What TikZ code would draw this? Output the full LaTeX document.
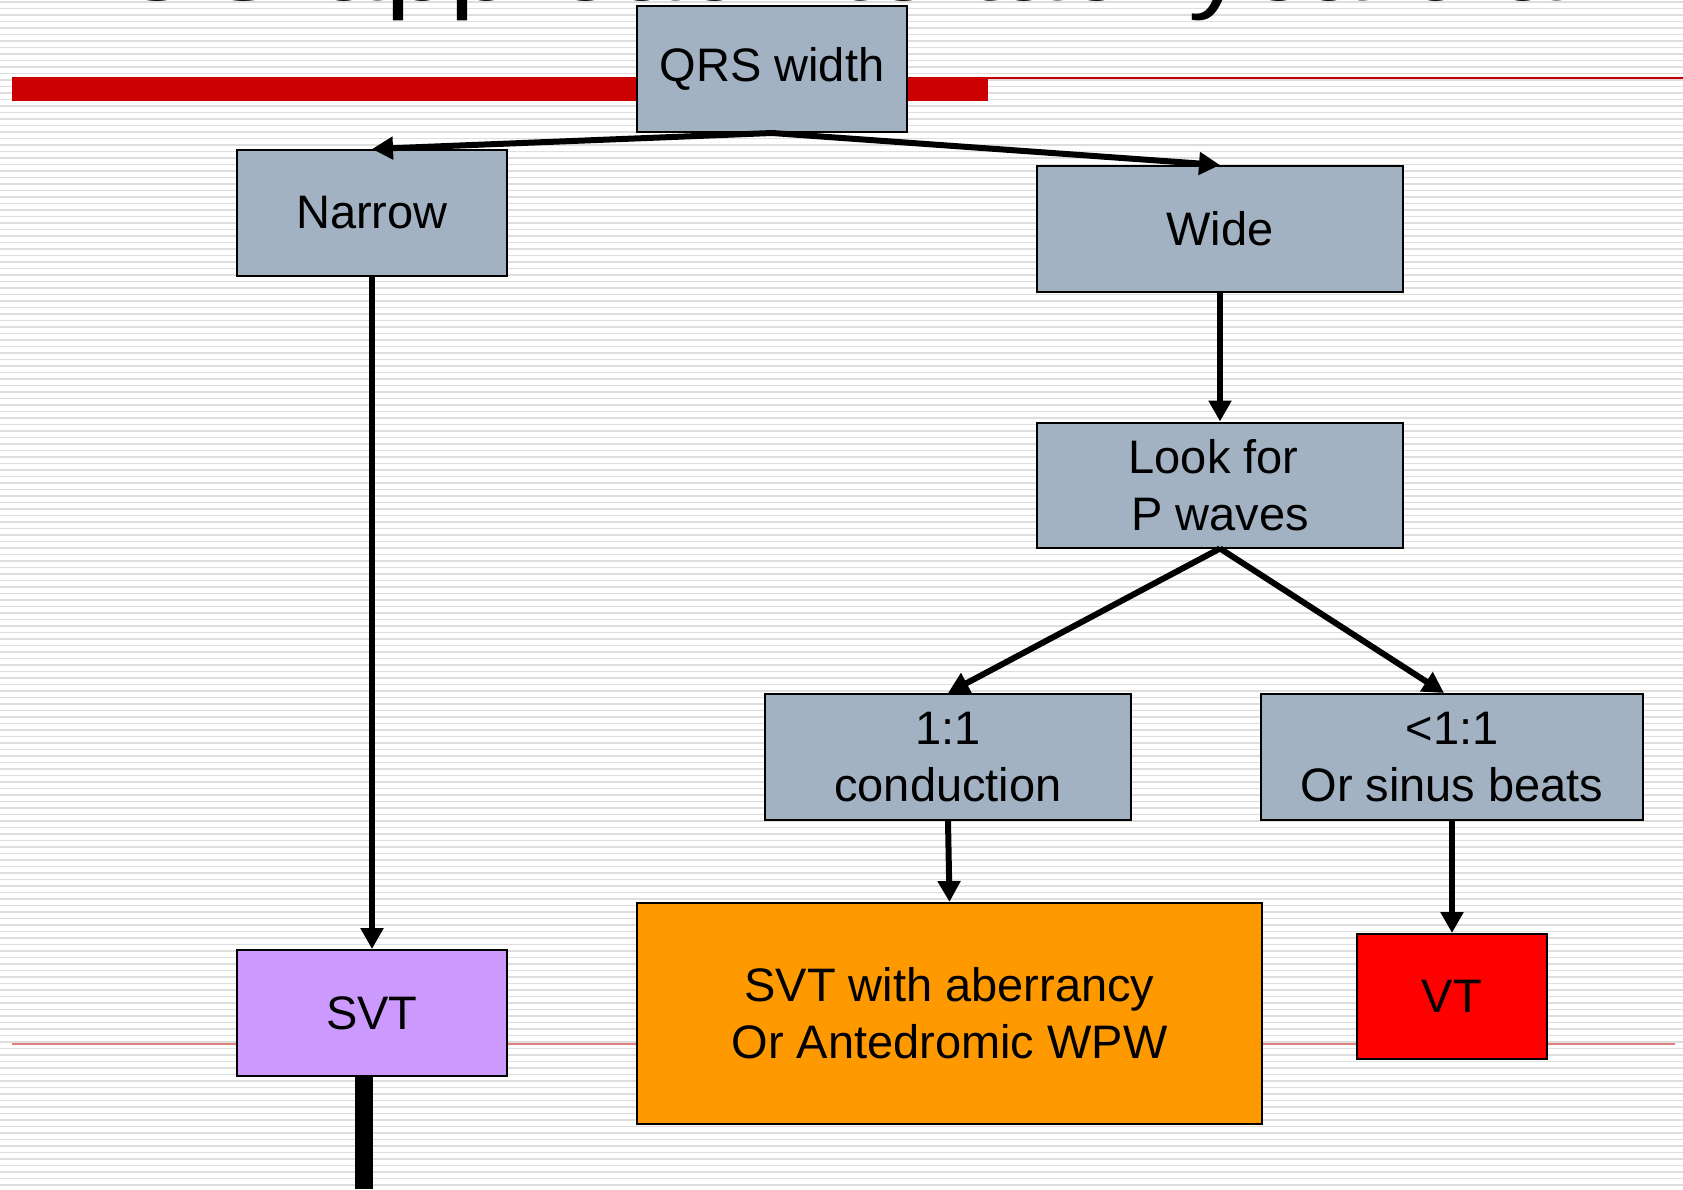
\documentclass[tikz,border=0pt]{standalone}
\usepackage{fontspec}
\setmainfont{Liberation Sans}
\usetikzlibrary{arrows.meta}

\definecolor{boxgray}{RGB}{162,178,194}
\definecolor{svtpurple}{RGB}{204,153,255}
\definecolor{aberrorange}{RGB}{255,153,0}
\definecolor{vtred}{RGB}{255,0,0}
\definecolor{barred}{RGB}{204,0,0}
\definecolor{rulepink}{RGB}{224,128,128}
\definecolor{stripe}{RGB}{222,222,222}

\tikzset{
  flowbox/.style={draw=black, line width=2pt, inner sep=0pt, align=center,
    font=\fontsize{47}{57}\selectfont},
  flowarrow/.style={line width=6pt, -{Triangle[length=21pt,width=22pt]}},
}

\begin{document}
\begin{tikzpicture}[x=1pt,y=-1pt]
  \useasboundingbox (0,0) rectangle (1683,1189);
  \fill[white] (0,0) rectangle (1683,1189);

  % ruled slide background
  \foreach \k in {0,...,183}
    \draw[stripe, line width=1.3pt] (0,{2+6.5*\k}) -- (1683,{2+6.5*\k});

  % slide title, running off the top edge
  \node[anchor=base west, inner sep=0pt, font=\fontsize{116.6}{120}\selectfont]
    (title) at (35,0.5) {\scalebox{1}[0.84]{ECG approach to tachycardia}};

  % red title rule
  \fill[barred] (12,77) rectangle (988,101);
  \draw[barred, line width=1.5pt] (988,78) -- (1683,78);

  % pink footer rule
  \draw[rulepink, line width=1.5pt] (12,1044) -- (1675,1044);

  % flow chart boxes
  \node[flowbox, fill=boxgray, minimum width=270pt, minimum height=126pt]
    (qrs) at (772,69) {QRS width};
  \node[flowbox, fill=boxgray, minimum width=270pt, minimum height=126pt]
    (narrow) at (372,213) {Narrow};
  \node[flowbox, fill=boxgray, minimum width=366pt, minimum height=126pt]
    (wide) at (1220,229) {Wide};
  \node[flowbox, fill=boxgray, minimum width=366pt, minimum height=125pt]
    (look) at (1220,485) {Look for\kern13pt\\P waves};
  \node[flowbox, fill=boxgray, minimum width=366pt, minimum height=126pt]
    (one) at (948,757) {1:1\\conduction};
  \node[flowbox, fill=boxgray, minimum width=382pt, minimum height=126pt]
    (less) at (1452,757) {<1:1\\Or sinus beats};
  \node[flowbox, fill=svtpurple, minimum width=270pt, minimum height=126pt]
    (svt) at (372,1013) {SVT};
  \node[flowbox, fill=aberrorange, minimum width=625pt, minimum height=221pt]
    (aberr) at (949.5,1013.5) {SVT with aberrancy\\Or Antedromic WPW};
  \node[flowbox, fill=vtred, minimum width=190pt, minimum height=125pt]
    (vt) at (1452,996.5) {VT};

  % thick stem below the SVT box
  \coordinate (stemend) at (svt.south |- 0,1189);
  \fill[black] ([xshift=-17pt]svt.south) rectangle ([xshift=1pt]stemend);

  % connectors
  \draw[flowarrow] (qrs.south) -- (narrow.north);
  \draw[flowarrow] (qrs.south) -- (wide.north);
  \draw[flowarrow] (narrow.south) -- (svt.north);
  \draw[flowarrow] (wide.south) -- (look.north);
  \draw[flowarrow] (look.south) -- (one.north);
  \draw[flowarrow] (look.south) -- ([xshift=-8pt]less.north);
  \draw[flowarrow] (one.south) -- (aberr.north);
  \draw[flowarrow] (less.south) -- (vt.north);
\end{tikzpicture}
\end{document}
